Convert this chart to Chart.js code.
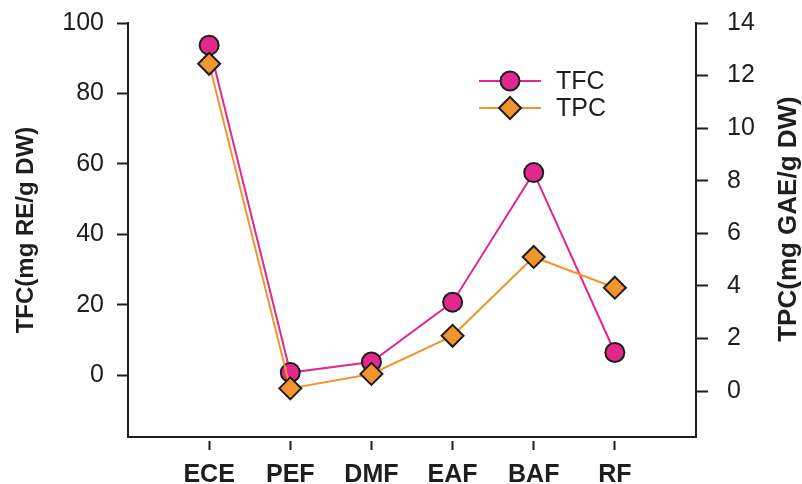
<!DOCTYPE html>
<html>
<head>
<meta charset="utf-8">
<script src="https://cdn.jsdelivr.net/npm/chart.js@4/dist/chart.umd.min.js"></script>
<style>
  html, body { margin: 0; padding: 0; background: #ffffff; overflow: hidden; }
  #c { display: block; }
</style>
</head>
<body>
<canvas id="c" width="802" height="484"></canvas>
<script>
// ---- data ----
const categories = ['ECE', 'PEF', 'DMF', 'EAF', 'BAF', 'RF'];
const tfcValues = [93.7, 0.7, 3.7, 20.7, 57.5, 6.4];     // mg RE/g DW (left axis)
const tpcValues = [12.45, 0.1, 0.65, 2.1, 5.1, 3.93];    // mg GAE/g DW (right axis)
const leftTicks = [0, 20, 40, 60, 80, 100];
const rightTicks = [0, 2, 4, 6, 8, 10, 12, 14];
const rightTitle = 'TPC(mg GAE/g DW)';

const FONT = "'Liberation Sans', Arial, Helvetica, sans-serif";
const INK = '#1e1e1e';
const PINK = '#E2288C';
const ORANGE = '#F2952C';

const toXY = vals => vals.map((v, i) => ({ x: i, y: v }));

const decorPlugin = {
  id: 'decor',
  afterDraw(chart) {
    const ctx = chart.ctx;
    // legend: line through marker, as in the reference
    const rows = [
      { ds: chart.data.datasets[0], y: 81 },
      { ds: chart.data.datasets[1], y: 108 }
    ];
    rows.forEach(r => {
      const ds = r.ds;
      ctx.save();
      ctx.strokeStyle = ds.borderColor;
      ctx.lineWidth = ds.borderWidth;
      ctx.beginPath();
      ctx.moveTo(479, r.y);
      ctx.lineTo(541, r.y);
      ctx.stroke();
      ctx.fillStyle = ds.pointBackgroundColor;
      ctx.strokeStyle = ds.pointBorderColor;
      ctx.lineWidth = ds.pointBorderWidth;
      Chart.helpers.drawPoint(ctx, {
        pointStyle: ds.pointStyle,
        radius: ds.pointRadius,
        rotation: 0,
        borderWidth: ds.pointBorderWidth
      }, 510, r.y);
      ctx.fillStyle = INK;
      ctx.font = '25px ' + FONT;
      ctx.textAlign = 'left';
      ctx.textBaseline = 'middle';
      ctx.fillText(ds.label, 556, r.y + 1);
      ctx.restore();
    });
    // right axis title, reading bottom-to-top like the left one
    const yR = chart.scales.yR;
    ctx.save();
    ctx.translate(yR.right - 13, 219);
    ctx.rotate(-Math.PI / 2);
    ctx.fillStyle = INK;
    ctx.font = 'bold 26px ' + FONT;
    ctx.textAlign = 'center';
    ctx.textBaseline = 'middle';
    ctx.fillText(rightTitle, 0, 0);
    ctx.restore();
  }
};

const fixV = w => s => { s.width = w; s.paddingTop = 0; s.paddingBottom = 0; };

new Chart(document.getElementById('c'), {
  type: 'line',
  data: {
    datasets: [
      {
        label: 'TFC',
        data: toXY(tfcValues),
        yAxisID: 'yL',
        borderColor: PINK,
        borderWidth: 2,
        pointStyle: 'circle',
        pointRadius: 9.5,
        pointBackgroundColor: PINK,
        pointBorderColor: INK,
        pointBorderWidth: 2,
        tension: 0,
        order: 1
      },
      {
        label: 'TPC',
        data: toXY(tpcValues),
        yAxisID: 'yR',
        borderColor: ORANGE,
        borderWidth: 2,
        pointStyle: 'rectRot',
        pointRadius: 11,
        pointBackgroundColor: ORANGE,
        pointBorderColor: INK,
        pointBorderWidth: 2,
        tension: 0,
        order: 0
      }
    ]
  },
  options: {
    responsive: false,
    devicePixelRatio: 1,
    animation: false,
    layout: { padding: { top: 23, left: 0, right: 0, bottom: 0 } },
    plugins: { legend: { display: false }, tooltip: { enabled: false } },
    scales: {
      x: {
        type: 'linear',
        position: 'bottom',
        min: -1,
        max: 6,
        afterBuildTicks: s => { s.ticks = categories.map((c, i) => ({ value: i })); },
        afterFit: s => { s.height = 47; s.paddingLeft = 0; s.paddingRight = 0; },
        border: { display: true, color: INK, width: 2 },
        grid: {
          drawOnChartArea: false,
          drawTicks: true,
          tickLength: 13,
          tickWidth: 2,
          tickColor: INK,
          tickBorderDash: [0, 3, 10]
        },
        ticks: {
          padding: 10,
          color: INK,
          font: { family: FONT, size: 25, weight: 'bold' },
          callback: v => categories[v],
          maxRotation: 0,
          autoSkip: false
        }
      },
      yL: {
        type: 'linear',
        position: 'left',
        min: -17.6,
        max: 100,
        afterBuildTicks: s => { s.ticks = leftTicks.map(v => ({ value: v })); },
        afterFit: fixV(128),
        border: { display: true, color: INK, width: 2 },
        grid: { drawOnChartArea: false, tickLength: 11, tickWidth: 2, tickColor: INK },
        ticks: { padding: 13, color: INK, font: { family: FONT, size: 25 } },
        title: {
          display: true,
          text: 'TFC(mg RE/g DW)',
          color: INK,
          font: { family: FONT, size: 24, weight: 'bold', lineHeight: 1.2 },
          padding: { top: 12, bottom: 0 }
        }
      },
      yR: {
        type: 'linear',
        position: 'right',
        min: -1.75,
        max: 14,
        afterBuildTicks: s => { s.ticks = rightTicks.map(v => ({ value: v })); },
        afterFit: fixV(106),
        border: { display: true, color: INK, width: 2 },
        grid: { drawOnChartArea: false, tickLength: 12, tickWidth: 2, tickColor: INK },
        ticks: { padding: 19, color: INK, font: { family: FONT, size: 25 } },
        title: { display: false }
      }
    }
  },
  plugins: [decorPlugin]
});
</script>
</body>
</html>
